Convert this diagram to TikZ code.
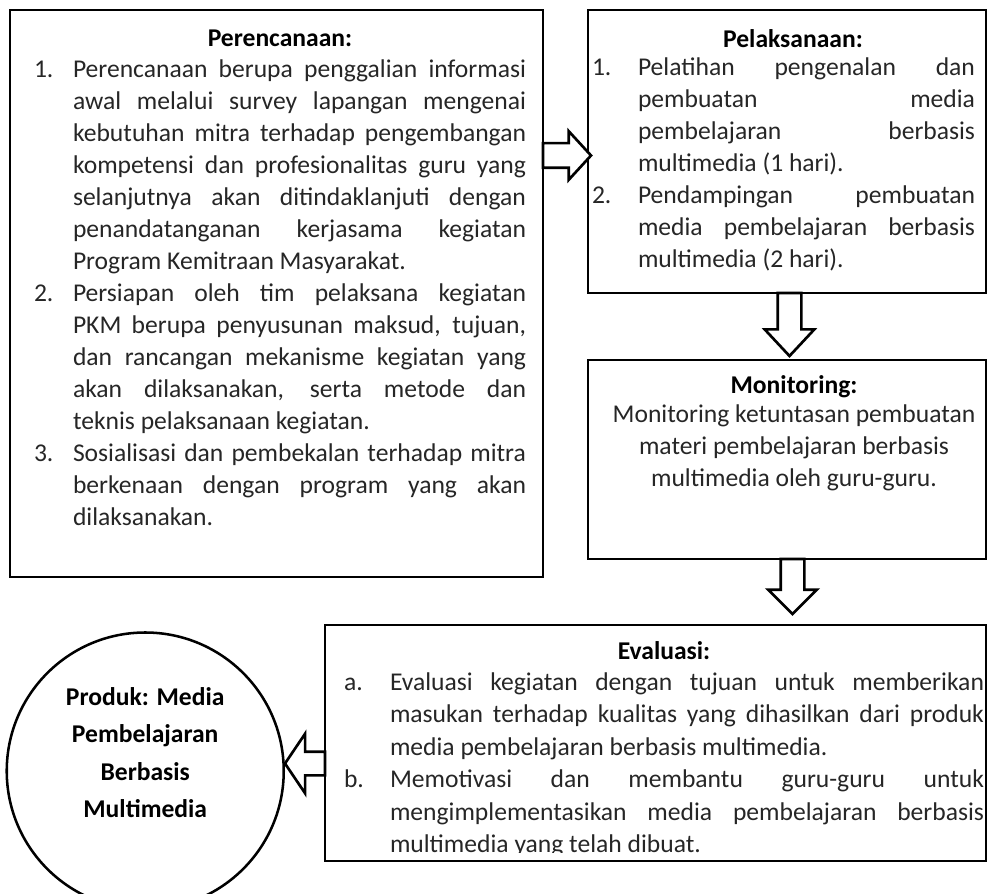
\documentclass[tikz,border=0pt]{standalone}
\usepackage{fontspec}
\setmainfont{Carlito}
\usepackage{enumitem}
\usetikzlibrary{positioning, calc, shapes.arrows}

\begin{document}
\begin{tikzpicture}[
    box/.style={draw, line width=0.9pt, inner sep=0pt, outer sep=0pt},
    boxtext/.style={anchor=north west, inner sep=0pt, outer sep=0pt,
        text=black!85, font=\fontsize{18.2pt}{22.8pt}\selectfont},
    blockarrow/.style={draw, single arrow, fill=white, line width=1.9pt,
        inner xsep=0pt, outer sep=0pt, anchor=tail},
]

\useasboundingbox (0,0) rectangle (24.675,-22.35);
\clip (0,0) rectangle (24.675,-22.35);

\tolerance=10000 \hbadness=10000 \vbadness=10000
\hyphenpenalty=10000 \exhyphenpenalty=10000

\node [box,
    minimum width=13.325cm,
    minimum height=14.175cm,
    anchor=north west
] (perenc) at (0.25,-0.25) {};

\node [box,
    minimum width=9.95cm,
    minimum height=7.075cm,
    right=1.125cm of perenc.north east,
    anchor=north west
] (pelak) {};

\node [box,
    minimum width=9.95cm,
    minimum height=4.975cm,
    below=1.675cm of pelak
] (monit) {};

\node [box,
    minimum width=16.525cm,
    minimum height=5.9cm,
    below=1.65cm of monit.south east,
    anchor=north east
] (eval) {};

\node [draw,
    circle,
    line width=1.8pt,
    minimum size=6.925cm,
    inner sep=0pt,
    left=1cm of eval.west,
    anchor=east,
    yshift=-0.7cm
] (produk) {};

% texts of the boxes
\node [boxtext] (perenc_text) at (perenc.north west) {%
\begin{minipage}[t]{13.325cm}
{\centering\leftskip=0.6cm plus 1fil\rightskip=0.425cm plus 1fil
\rule{0pt}{0.925cm}\textbf{\color{black}Perencanaan:}\par}
\vspace{-0.05cm}
\begin{enumerate}[nosep, label=\arabic*., align=left, labelindent=0.6cm,
    labelwidth=0.975cm, labelsep=0pt, leftmargin=!, rightmargin=0.425cm]
\item Perencanaan berupa penggalian informasi\linebreak
awal melalui survey lapangan mengenai\linebreak
kebutuhan mitra terhadap pengembangan\linebreak
kompetensi dan profesionalitas guru yang\linebreak
selanjutnya akan ditindaklanjuti dengan\linebreak
penandatanganan kerjasama kegiatan\linebreak
Program Kemitraan Masyarakat.
\item Persiapan oleh tim pelaksana kegiatan\linebreak
PKM berupa penyusunan maksud, tujuan,\linebreak
dan rancangan mekanisme kegiatan yang\linebreak
akan dilaksanakan, serta metode dan\linebreak
teknis pelaksanaan kegiatan.
\item Sosialisasi dan pembekalan terhadap mitra\linebreak
berkenaan dengan program yang akan\linebreak
dilaksanakan.
\end{enumerate}
\end{minipage}};

\node [boxtext] (pelak_text) at (pelak.north west) {%
\begin{minipage}[t]{9.95cm}
{\centering\leftskip=0.575cm plus 1fil\rightskip=0.275cm plus 1fil
\rule{0pt}{0.95cm}\textbf{\color{black}Pelaksanaan:}\par}
\vspace{-0.125cm}
\begin{enumerate}[nosep, label=\arabic*., align=left, labelindent=0.1cm,
    labelwidth=1.15cm, labelsep=0pt, leftmargin=!, rightmargin=0.275cm]
\item Pelatihan pengenalan dan\linebreak
pembuatan media\linebreak
pembelajaran berbasis\linebreak
multimedia (1 hari).
\item Pendampingan pembuatan\linebreak
media pembelajaran berbasis\linebreak
multimedia (2 hari).
\end{enumerate}
\end{minipage}};

\node [boxtext] (monit_text) at (monit.north west) {%
\begin{minipage}[t]{9.95cm}
\centering\leftskip=0.35cm plus 1fil\rightskip=0pt plus 1fil
\rule{0pt}{0.85cm}\textbf{\color{black}Monitoring:}\par
\vspace{-0.1cm}
Monitoring ketuntasan pembuatan\\
materi pembelajaran berbasis\\
multimedia oleh guru-guru.\par
\end{minipage}};

\begin{scope}
\clip ([yshift=0.22cm]eval.south west) rectangle (eval.north east);
\node [boxtext,
    font=\fontsize{18.2pt}{23.1pt}\selectfont
] (eval_text) at (eval.north west) {%
\begin{minipage}[t]{16.525cm}
{\centering\leftskip=0.475cm plus 1fil\rightskip=0.05cm plus 1fil
\rule{0pt}{0.85cm}\textbf{\color{black}Evaluasi:}\par}
\vspace{-0.025cm}
\begin{enumerate}[nosep, label=\alph*., align=left, labelindent=0.475cm,
    labelwidth=1.15cm, labelsep=0pt, leftmargin=!, rightmargin=0.05cm]
\item Evaluasi kegiatan dengan tujuan untuk memberikan\linebreak
masukan terhadap kualitas yang dihasilkan dari produk\linebreak
media pembelajaran berbasis multimedia.
\item Memotivasi dan membantu guru-guru untuk\linebreak
mengimplementasikan media pembelajaran berbasis\linebreak
multimedia yang telah dibuat.
\end{enumerate}
\end{minipage}};
\end{scope}

\node [align=center,
    font=\fontsize{18.2pt}{26.7pt}\selectfont\bfseries
] (produk_text) at ([yshift=0.46cm]produk.center)
    {Produk: Media\\ Pembelajaran\\ Berbasis\\ Multimedia};

% block arrows between the steps
\node [blockarrow,
    minimum height=1.2cm,
    inner ysep=0.275cm,
    single arrow head extend=0.3cm,
    single arrow tip angle=95
] (arrow_plan) at ($(perenc.east |- pelak.west)+(0,-0.1)$) {};

\node [blockarrow,
    rotate=-90,
    minimum height=1.575cm,
    inner ysep=0.2625cm,
    single arrow head extend=0.325cm,
    single arrow tip angle=86
] (arrow_exec) at ([xshift=0.0625cm]pelak.south) {};

\node [blockarrow,
    rotate=-90,
    minimum height=1.375cm,
    inner ysep=0.2625cm,
    single arrow head extend=0.3125cm,
    single arrow tip angle=90
] (arrow_monit) at ([xshift=0.1375cm]monit.south) {};

\node [blockarrow,
    rotate=180,
    minimum height=1cm,
    inner ysep=0.2625cm,
    single arrow head extend=0.45cm,
    single arrow tip angle=112
] (arrow_eval) at ([yshift=-0.5125cm]eval.west) {};

\end{tikzpicture}
\end{document}
